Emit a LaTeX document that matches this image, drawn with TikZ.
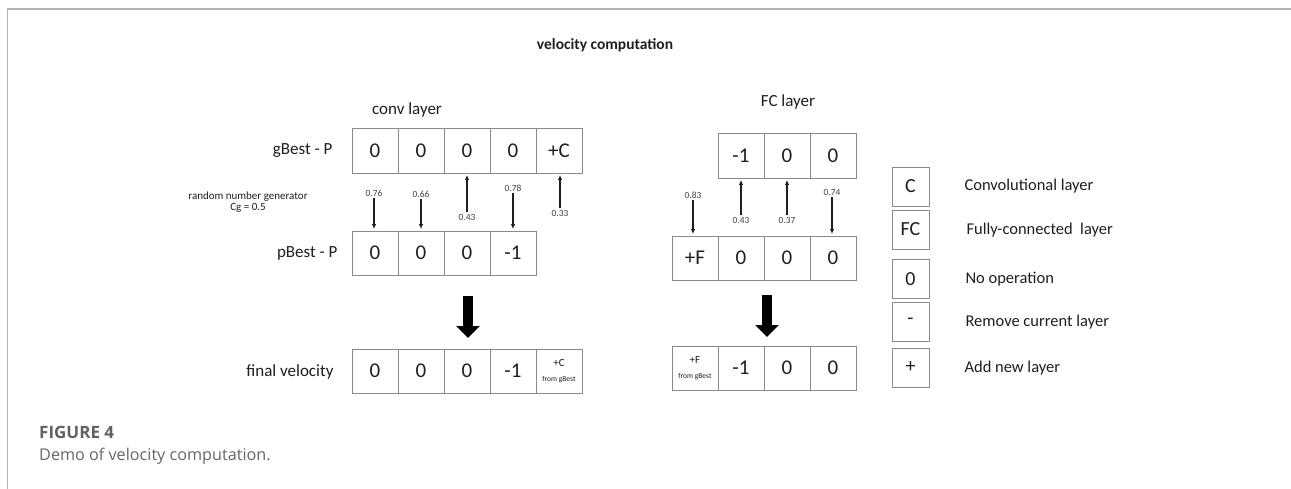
\documentclass[tikz,border=0pt]{standalone}
\usepackage{fontspec}
\setmainfont{Carlito}
\newfontfamily\capfont{Open Sans}
\usetikzlibrary{arrows.meta}
\definecolor{frame}{HTML}{B4B4B4}
\definecolor{cellline}{HTML}{8A8A8A}
\definecolor{ink}{HTML}{1E1E1E}
\definecolor{capgray}{HTML}{666666}
\begin{document}
\begin{tikzpicture}[x=1pt,y=-1pt,
  cell/.style={draw=cellline, line width=0.9pt, minimum width=46pt, minimum height=45pt,
    inner sep=0pt, text=ink, font=\fontsize{21}{24}\selectfont},
  smallcell/.style={cell, align=center, font=\fontsize{7.5}{15}\selectfont},
  keybox/.style={draw=cellline, line width=0.9pt, minimum width=37pt, minimum height=39pt,
    inner sep=0pt, text=ink, font=\fontsize{20}{24}\selectfont},
  rowlabel/.style={anchor=east, text=ink, font=\fontsize{17}{20}\selectfont},
  heading/.style={text=ink, font=\fontsize{17}{20}\selectfont},
  keytext/.style={anchor=west, text=ink, font=\fontsize{16.5}{20}\selectfont},
  prob/.style={text=ink!85, inner sep=1pt, font=\fontsize{9.4}{11}\selectfont},
  conn/.style={-{Latex[length=5pt,width=4.5pt]}, line width=1.4pt, ink, shorten <=1pt, shorten >=1.5pt},
  bigarrow/.style={-{Triangle[length=12pt,width=23pt]}, line width=10pt, black},
  frameline/.style={draw=frame, line width=1.6pt}]

\useasboundingbox (0,0) rectangle (1291,489);

% page frame
\draw[frameline] (7.5,489) -- (7.5,9) -- (1291,9);

% title
\node[text=ink, font=\bfseries\fontsize{15.5}{18}\selectfont] (title) at (605,45) {velocity computation};

% ---------------- convolutional layer ----------------
\node[heading] (convhead) at (407,110) {conv layer};

\node[rowlabel] (glab) at (336,151) {gBest - P};
\node[cell, minimum height=45pt] (g1) at (375,150.5) {0};
\node[cell, minimum height=45pt] (g2) at (421,150.5) {0};
\node[cell, minimum height=45pt] (g3) at (467,150.5) {0};
\node[cell, minimum height=45pt] (g4) at (513,150.5) {0};
\node[cell, minimum height=45pt] (g5) at (559,150.5) {+C};

\node[text=ink, align=center, font=\fontsize{11}{11.5}\selectfont] (rng) at (248,202)
  {random number generator\\Cg = 0.5};

\node[rowlabel] (plab) at (341,253) {pBest - P};
\node[cell, minimum height=44pt] (p1) at (375,253) {0};
\node[cell, minimum height=44pt] (p2) at (421,253) {0};
\node[cell, minimum height=44pt] (p3) at (467,253) {0};
\node[cell, minimum height=44pt] (p4) at (513,253) {-1};

% random draws: below Cg take pBest, otherwise gBest
\node[prob] (r1) at (374,193) {0.76};
\node[prob] (r2) at (421,194) {0.66};
\node[prob] (r3) at (467,217) {0.43};
\node[prob] (r4) at (513,188) {0.78};
\node[prob] (r5) at (560,213) {0.33};
\draw[conn] (r1.south) -- (r1.south |- p1.north);
\draw[conn] (r2.south) -- (r2.south |- p2.north);
\draw[conn] (r3.north) -- (r3.north |- g3.south);
\draw[conn] (r4.south) -- (r4.south |- p4.north);
\draw[conn] (r5.north) -- (r5.north |- g5.south);

\coordinate (cbigtop) at (468,296);
\coordinate (cbigend) at (468,338);
\draw[bigarrow] (cbigtop) -- (cbigend);

\node[rowlabel] (flab) at (337,372) {final velocity};
\node[cell, minimum height=44pt] (f1) at (375,371) {0};
\node[cell, minimum height=44pt] (f2) at (421,371) {0};
\node[cell, minimum height=44pt] (f3) at (467,371) {0};
\node[cell, minimum height=44pt] (f4) at (513,371) {-1};
\node[smallcell, minimum height=44pt] (f5) at (559,371)
  {{\fontsize{11}{13}\selectfont +C}\\from gBest};

% ---------------- fully-connected layer ----------------
\node[heading] (fchead) at (788,102) {FC layer};

\node[cell] (h2) at (741,155.5) {-1};
\node[cell] (h3) at (787,155.5) {0};
\node[cell] (h4) at (833,155.5) {0};

\node[cell, minimum height=44pt] (q1) at (695,258) {+F};
\node[cell, minimum height=44pt] (q2) at (741,258) {0};
\node[cell, minimum height=44pt] (q3) at (787,258) {0};
\node[cell, minimum height=44pt] (q4) at (833,258) {0};

\node[prob] (s1) at (693,195) {0.83};
\node[prob] (s2) at (741,220) {0.43};
\node[prob] (s3) at (787,220) {0.37};
\node[prob] (s4) at (832,192) {0.74};
\draw[conn] (s1.south) -- (s1.south |- q1.north);
\draw[conn] (s2.north) -- (s2.north |- h2.south);
\draw[conn] (s3.north) -- (s3.north |- h3.south);
\draw[conn] (s4.south) -- (s4.south |- q4.north);

\coordinate (fbigtop) at (767,295);
\coordinate (fbigend) at (767,337);
\draw[bigarrow] (fbigtop) -- (fbigend);

\node[smallcell, minimum height=44pt] (e1) at (695,368)
  {{\fontsize{11}{13}\selectfont +F}\\from gBest};
\node[cell, minimum height=44pt] (e2) at (741,368) {-1};
\node[cell, minimum height=44pt] (e3) at (787,368) {0};
\node[cell, minimum height=44pt] (e4) at (833,368) {0};

% ---------------- key ----------------
\node[keybox] (kc)  at (910.5,186.5) {C};
\node[keybox] (kfc) at (910.5,229.5) {FC};
\node[keybox] (k0)  at (910.5,279) {0};
\node[keybox] (km)  at (910.5,321.5) {-};
\node[keybox] (kp)  at (910.5,367.5) {+};
\node[keytext] (tc)  at (961,186) {Convolutional layer};
\node[keytext] (tfc) at (963,230) {Fully-connected\ \ layer};
\node[keytext] (t0)  at (962,279) {No operation};
\node[keytext] (tm)  at (962,322) {Remove current layer};
\node[keytext] (tp)  at (961,368) {Add new layer};

% ---------------- caption ----------------
\node[anchor=west, text=capgray!95!black, inner sep=0pt, font=\capfont\bfseries\fontsize{17}{20}\selectfont] (fig) at (39,432) {FIGURE 4};
\node[anchor=west, text=capgray, inner sep=0pt, font=\capfont\fontsize{16.2}{19}\selectfont] (cap) at (39,456) {Demo of velocity computation.};
\end{tikzpicture}
\end{document}
